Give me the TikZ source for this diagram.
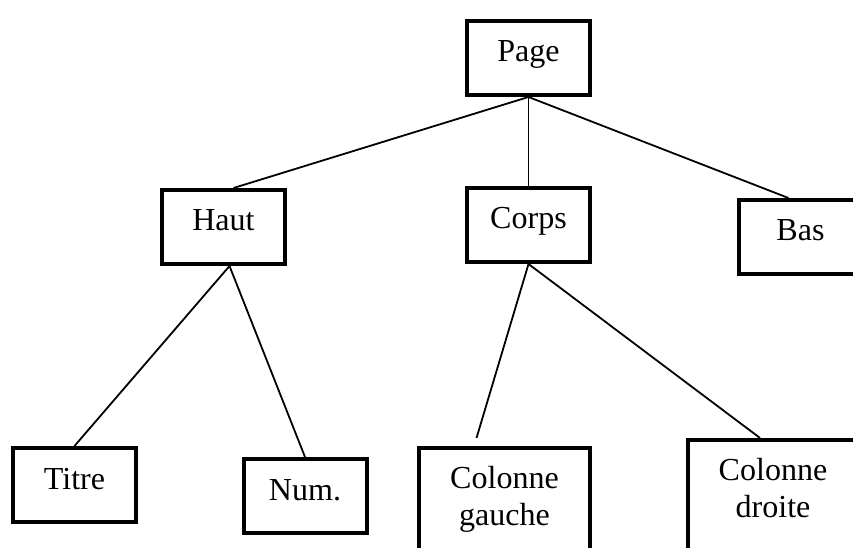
\documentclass[tikz,border=0pt]{standalone}
\usepackage{fontspec}
\setmainfont{Liberation Serif}
\usepackage{tikz}
\usetikzlibrary{calc}

\begin{document}
\begin{tikzpicture}[
  frame/.style={draw, line width=0.1cm, font=\fontsize{22.8}{26.5}\selectfont,
    inner ysep=0.45cm, minimum width=3.075cm},
  box/.style={frame, inner xsep=0.2cm, text height=0.575cm, text depth=0.375cm, anchor=base},
  colbox/.style={frame, inner xsep=0.775cm, align=center, text depth=2cm, anchor=north},
  link/.style={line width=0.045cm}
]
\def \W {21.325}
\def \H {13.675}
\useasboundingbox (0,0) rectangle (\W,\H);
\clip (0,0) rectangle (\W,\H);

% top level
\node[box] (page) at (13.2125,12.125) {Page};

% second level
\node[box] (haut)  at (5.5875,7.9)   {Haut};
\node[box] (corps) at (13.2125,7.95) {Corps};
\node[box] (bas)   at (20.0125,7.65) {Bas};

% leaves
\node[box] (titre) at (1.8625,1.45) {Titre};
\node[box] (num)   at (7.625,1.175) {Num.};
\node[colbox] (gauche) at (12.6125,2.525) {Colonne\\gauche};
\node[colbox] (droite) at (19.325,2.725)  {Colonne\\droite};

\draw[link] (page.south) -- ([xshift=0.25cm]haut.north);
\draw[link] (page.south) -- (corps.north);
\draw[link] (page.south) -- ([xshift=-0.3cm]bas.north);

\draw[link] ([xshift=0.15cm]haut.south) -- (titre.north);
\draw[link] ([xshift=0.15cm]haut.south) -- (num.north);

\draw[link] (corps.south) -- ([xshift=-0.7cm,yshift=0.2cm]gauche.north);
\draw[link] (corps.south) -- ([xshift=-0.325cm]droite.north);
\end{tikzpicture}
\end{document}
